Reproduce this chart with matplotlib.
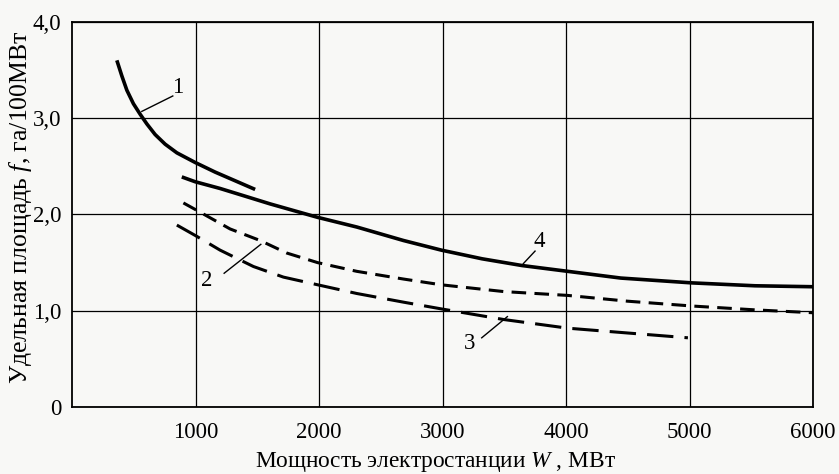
import numpy as np
import matplotlib
matplotlib.use("Agg")
import matplotlib.pyplot as plt

plt.rcParams["font.family"] = ["Liberation Serif", "DejaVu Serif"]
plt.rcParams["mathtext.fontset"] = "custom"
plt.rcParams["mathtext.rm"] = "Liberation Serif"
plt.rcParams["mathtext.it"] = "Liberation Serif:italic"
plt.rcParams["lines.scale_dashes"] = False

# Curve 1 (solid, upper short branch)
w1 = [362, 402, 443, 496, 551, 605, 672, 753, 848, 996, 1158, 1320, 1482]
f1 = [3.60, 3.44, 3.29, 3.15, 3.04, 2.94, 2.83, 2.73, 2.64, 2.54, 2.44, 2.35, 2.26]

# Curve 2 (short dashes)
w2 = [901, 1000, 1279, 1522, 1738, 1989, 2305, 2683, 2990, 3494, 4013, 4498, 5020, 5530, 6002]
f2 = [2.12, 2.05, 1.85, 1.73, 1.60, 1.50, 1.41, 1.33, 1.27, 1.20, 1.16, 1.10, 1.05, 1.01, 0.98]

# Curve 3 (long dashes)
w3 = [848, 1000, 1198, 1468, 1711, 1989, 2305, 2683, 2990, 3494, 4013, 4498, 4987]
f3 = [1.89, 1.78, 1.63, 1.46, 1.35, 1.27, 1.18, 1.09, 1.02, 0.91, 0.82, 0.77, 0.72]

# Curve 4 (solid, long)
w4 = [888, 996, 1198, 1401, 1603, 1989, 2305, 2683, 2990, 3320, 3644, 4013, 4444, 5020, 5530, 6002]
f4 = [2.39, 2.34, 2.27, 2.19, 2.11, 1.97, 1.87, 1.73, 1.63, 1.54, 1.47, 1.41, 1.34, 1.29, 1.26, 1.25]

x_ticks = [1000, 2000, 3000, 4000, 5000, 6000]
y_ticks = [0, 1, 2, 3, 4]
y_tick_labels = ["0", "1,0", "2,0", "3,0", "4,0"]

# curve numbers: text position and leader line
curve_labels = ["1", "2", "3", "4"]
label_pos = [(853, 3.32), (1091, 1.31), (3217, 0.66), (3780, 1.72)]
leader_from = [(564, 3.07), (1231, 1.39), (3317, 0.72), (3654, 1.49)]
leader_to = [(815, 3.23), (1528, 1.69), (3525, 0.94), (3749, 1.62)]

fig = plt.figure(figsize=(8.39, 4.74), dpi=100, facecolor="#f8f8f6")
ax = fig.add_axes([0.086, 0.141, 0.883, 0.813])
ax.set_facecolor("#f8f8f6")

ax.plot(w1, f1, color="black", lw=2.6, solid_capstyle="butt", solid_joinstyle="round")
ax.plot(w4, f4, color="black", lw=2.6, solid_capstyle="butt", solid_joinstyle="round")
ax.plot(w2, f2, color="black", lw=2.2, dashes=(10.5, 6))
ax.plot(w3, f3, color="black", lw=2.2, dashes=(19, 8))

for lab, (tx, ty), (x0, y0), (x1, y1) in zip(curve_labels, label_pos, leader_from, leader_to):
    ax.text(tx, ty, lab, fontsize=16.5, ha="center", va="center")
    ax.plot([x0, x1], [y0, y1], color="black", lw=1.0)

ax.set_xlim(0, 6000)
ax.set_ylim(0, 4)
ax.set_xticks(x_ticks)
ax.set_xticklabels([str(v) for v in x_ticks])
ax.set_yticks(y_ticks)
ax.set_yticklabels(y_tick_labels)
ax.tick_params(axis="both", length=0, labelsize=16.5)
ax.tick_params(axis="x", pad=11)
ax.tick_params(axis="y", pad=8)
ax.grid(True, color="black", lw=0.9)

for s in ax.spines.values():
    s.set_linewidth(1.3)
    s.set_color("black")

ax.set_xlabel(r"Мощность электростанции $W$ , МВт", fontsize=16.8, va="top")
ax.xaxis.set_label_coords(0.491, -0.112)
ax.set_ylabel(r"Удельная площадь $f$, га/100МВт", fontsize=18.5)
ax.yaxis.set_label_coords(-0.051, 0.52)

plt.savefig("out.png", dpi=100, facecolor=fig.get_facecolor())
